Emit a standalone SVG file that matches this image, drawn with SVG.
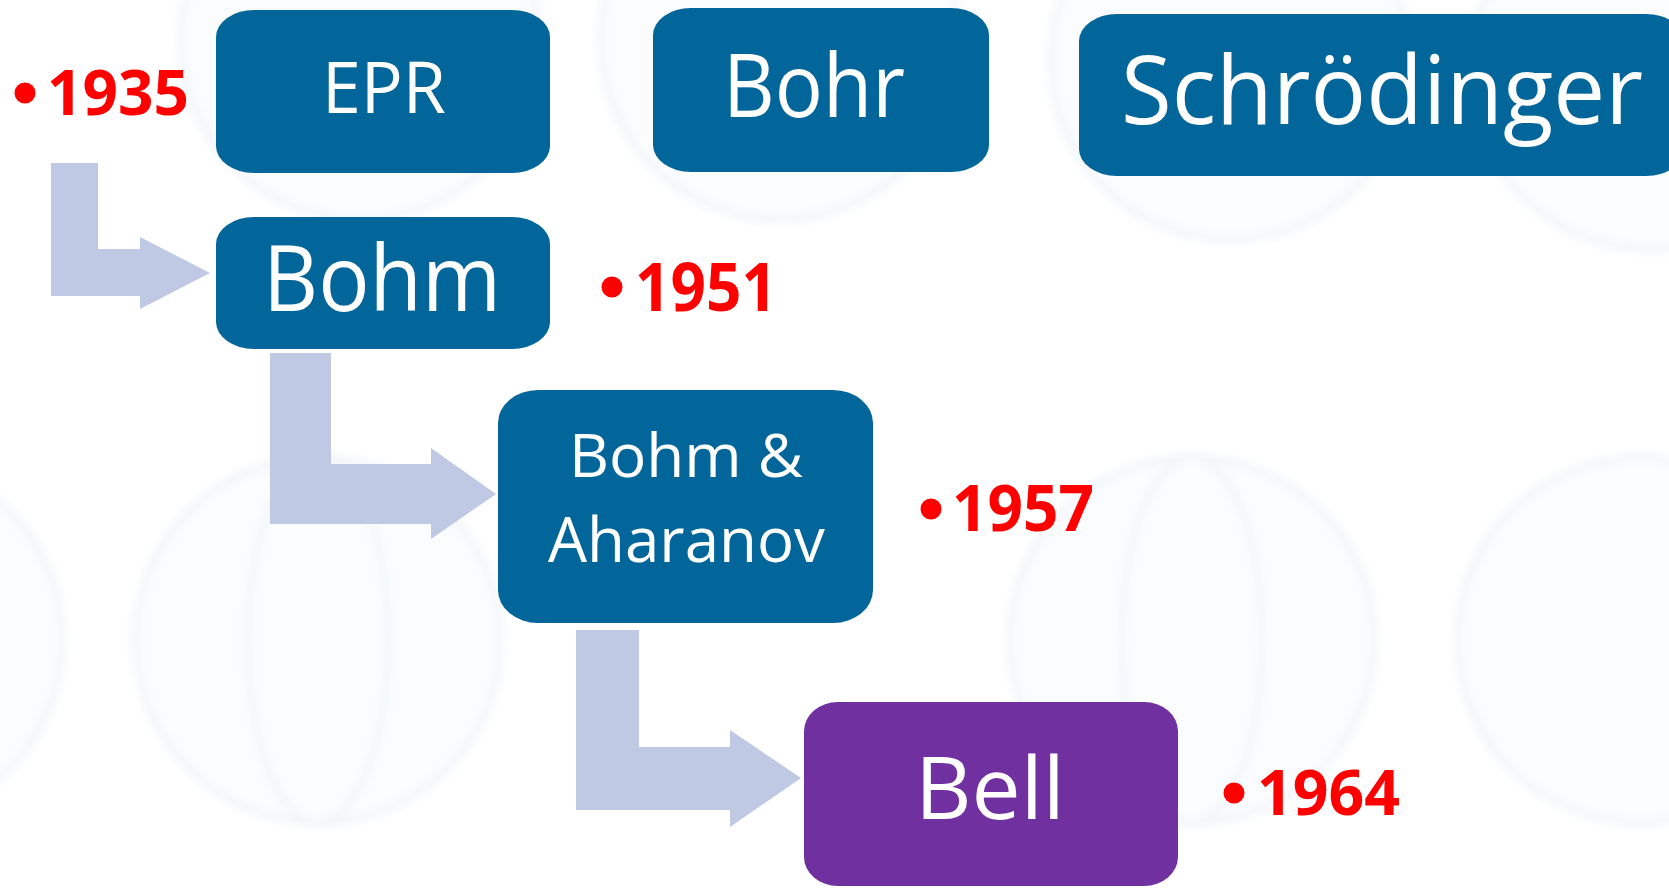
<svg xmlns="http://www.w3.org/2000/svg" width="1669" height="888" viewBox="0 0 1669 888">
<defs>
<filter id="soft" x="-10%" y="-10%" width="120%" height="120%"><feGaussianBlur stdDeviation="4"/></filter>
</defs>
<style>
.box{fill:#03669A}
.bell{fill:#7030A0}
.arrow{fill:#BFC9E3}
.lbl{font-family:"Open Sans","Noto Sans","Liberation Sans",sans-serif;fill:#FFFFFF}
.yr{font-family:"Open Sans","Noto Sans","Liberation Sans",sans-serif;font-weight:bold;fill:#FF0000}
.dot{fill:#FF0000}
.bg{fill:#FAFCFD;stroke:#EEF2F7;stroke-width:5}
.bgl{fill:none;stroke:#F0F4F8;stroke-width:5}
</style>
<rect x="0" y="0" width="1669" height="888" fill="#FFFFFF"/>
<g id="background" filter="url(#soft)">
  <circle class="bg" cx="318" cy="640" r="183"/>
  <ellipse class="bgl" cx="318" cy="640" rx="70" ry="183"/>
  <circle class="bg" cx="1192" cy="640" r="183"/>
  <ellipse class="bgl" cx="1192" cy="640" rx="70" ry="183"/>
  <circle class="bg" cx="1640" cy="640" r="183"/>
  <circle class="bg" cx="-120" cy="640" r="183"/>
  <circle class="bg" cx="1230" cy="60" r="180"/>
  <circle class="bg" cx="1650" cy="70" r="180"/>
  <circle class="bg" cx="360" cy="40" r="180"/>
  <circle class="bg" cx="780" cy="40" r="180"/>
</g>
<g id="connectors">
  <polygon class="arrow" points="51,163 98,163 98,249 140,249 140,237 210,273 140,309 140,296 51,296"/>
  <polygon class="arrow" points="270,353 331,353 331,464 431,464 431,448 496,494 431,539 431,524 270,524"/>
  <polygon class="arrow" points="576,630 639,630 639,747 730,747 730,730 801,778 730,827 730,810 576,810"/>
</g>
<g id="epr">
  <rect class="box" x="216" y="10" width="334" height="163" rx="38" ry="27"/>
  <text class="lbl" x="322" y="113" font-size="72" textLength="124" lengthAdjust="spacingAndGlyphs">EPR</text>
</g>
<g id="bohr">
  <rect class="box" x="653" y="8" width="336" height="164" rx="38" ry="27"/>
  <text class="lbl" x="723" y="117" font-size="88" textLength="182" lengthAdjust="spacingAndGlyphs">Bohr</text>
</g>
<g id="schrodinger">
  <rect class="box" x="1079" y="14" width="605" height="162" rx="38" ry="27"/>
  <text class="lbl" x="1121" y="124" font-size="95" textLength="522" lengthAdjust="spacingAndGlyphs">Schrödinger</text>
</g>
<g id="bohm">
  <rect class="box" x="216" y="217" width="334" height="132" rx="38" ry="27"/>
  <text class="lbl" x="263" y="311" font-size="91" textLength="238" lengthAdjust="spacingAndGlyphs">Bohm</text>
</g>
<g id="bohm-aharanov">
  <rect class="box" x="498" y="390" width="375" height="233" rx="40" ry="33"/>
  <text class="lbl" x="569" y="477" font-size="60" textLength="234" lengthAdjust="spacingAndGlyphs">Bohm &amp;</text>
  <text class="lbl" x="548" y="562" font-size="62" textLength="277" lengthAdjust="spacingAndGlyphs">Aharanov</text>
</g>
<g id="bell">
  <rect class="bell" x="804" y="702" width="374" height="184" rx="34" ry="29"/>
  <text class="lbl" x="915" y="819" font-size="86" textLength="150" lengthAdjust="spacingAndGlyphs">Bell</text>
</g>
<g id="y1935">
  <circle class="dot" cx="25" cy="93" r="10.5"/>
  <text class="yr" x="47" y="115" font-size="63" textLength="142" lengthAdjust="spacingAndGlyphs">1935</text>
</g>
<g id="y1951">
  <circle class="dot" cx="612" cy="287" r="10.5"/>
  <text class="yr" x="635" y="311" font-size="66" textLength="142" lengthAdjust="spacingAndGlyphs">1951</text>
</g>
<g id="y1957">
  <circle class="dot" cx="931" cy="509" r="10.5"/>
  <text class="yr" x="952" y="531" font-size="65" textLength="142" lengthAdjust="spacingAndGlyphs">1957</text>
</g>
<g id="y1964">
  <circle class="dot" cx="1234" cy="793" r="10.5"/>
  <text class="yr" x="1257" y="815" font-size="63" textLength="143" lengthAdjust="spacingAndGlyphs">1964</text>
</g>
</svg>
